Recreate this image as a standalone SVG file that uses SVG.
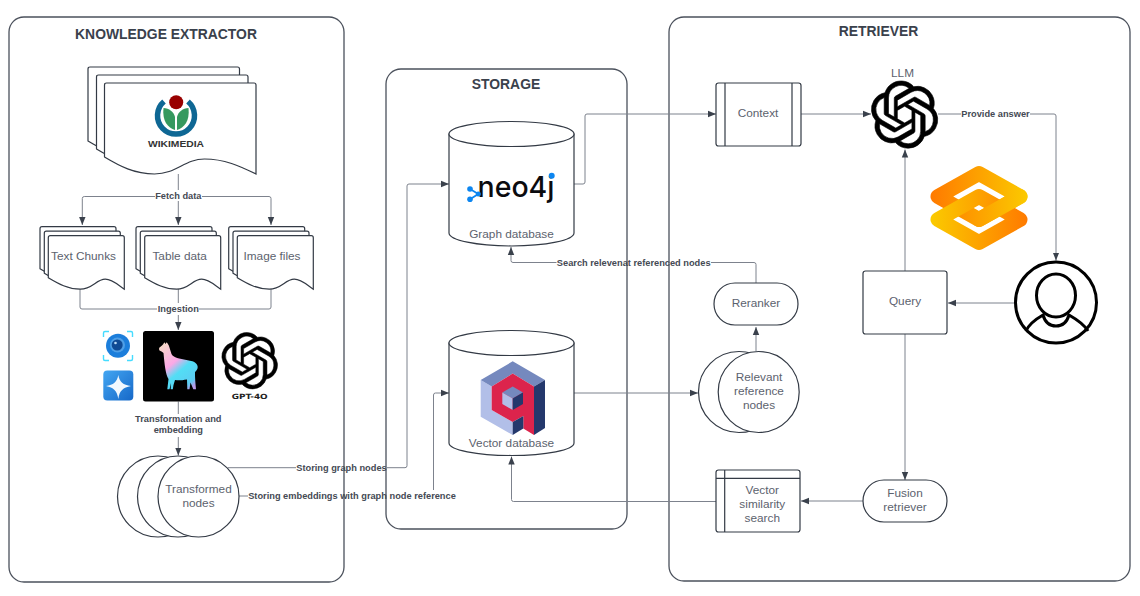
<svg xmlns="http://www.w3.org/2000/svg" width="1140" height="596" viewBox="0 0 1140 596">
<style>
text{font-family:"Liberation Sans",Arial,sans-serif}
.panel{fill:none;stroke:#4b515c;stroke-width:1.3}
.title{font-size:13.900px;font-weight:700;fill:#3a414c;text-anchor:middle}
.shape{fill:#fff;stroke:#333a45;stroke-width:1.2}
.t{font-size:11.800px;fill:#5c626e;text-anchor:middle}
.lab{font-size:9.250px;font-weight:700;fill:#454a54;text-anchor:middle}
.c{fill:none;stroke:#7d828d;stroke-width:1}
.ai{fill:#000;stroke:#000;stroke-width:.22}
</style>
<defs>
<marker id="a" viewBox="0 0 8 8" refX="8" refY="4" markerWidth="8" markerHeight="8" markerUnits="userSpaceOnUse" orient="auto"><path d="M0 0.8L8 4L0 7.2Z" fill="#3a414c"/></marker>
<path id="docL" d="M0 2Q0 0 2 0H149.500Q151.500 0 151.500 2V91C135 83 120 76 100 76C80 76 72 91 50 91C30 91 15 83 0 74Z"/>
<path id="docS" d="M0 2Q0 0 2 0H74Q76 0 76 2V53.500C70 49.500 64 43.500 57 43.500C48 43.500 44 53.500 32 53.500C20 53.500 10 48 0 42Z"/>
<path id="ai" d="M22.2819 9.8211a5.9847 5.9847 0 0 0-.5157-4.9108 6.0462 6.0462 0 0 0-6.5098-2.9A6.0651 6.0651 0 0 0 4.9807 4.1818a5.9847 5.9847 0 0 0-3.9977 2.9 6.0462 6.0462 0 0 0 .7427 7.0966 5.98 5.98 0 0 0 .511 4.9107 6.051 6.051 0 0 0 6.5146 2.9001A5.9847 5.9847 0 0 0 13.2599 24a6.0557 6.0557 0 0 0 5.7718-4.2058 5.9894 5.9894 0 0 0 3.9977-2.9001 6.0557 6.0557 0 0 0-.7475-7.0729zm-9.022 12.6081a4.4755 4.4755 0 0 1-2.8764-1.0408l.1419-.0804 4.7783-2.7582a.7948.7948 0 0 0 .3927-.6813v-6.7369l2.02 1.1686a.071.071 0 0 1 .038.052v5.5826a4.504 4.504 0 0 1-4.4945 4.4944zm-9.6607-4.1254a4.4708 4.4708 0 0 1-.5346-3.0137l.142.0852 4.783 2.7582a.7712.7712 0 0 0 .7806 0l5.8428-3.3685v2.3324a.0804.0804 0 0 1-.0332.0615L9.74 19.9502a4.4992 4.4992 0 0 1-6.1408-1.6464zM2.3408 7.8956a4.485 4.485 0 0 1 2.3655-1.9728V11.6a.7664.7664 0 0 0 .3879.6765l5.8144 3.3543-2.0201 1.1685a.0757.0757 0 0 1-.071 0l-4.8303-2.7865A4.504 4.504 0 0 1 2.3408 7.872zm16.5963 3.8558L13.1038 8.364 15.1192 7.2a.0757.0757 0 0 1 .071 0l4.8303 2.7913a4.4944 4.4944 0 0 1-.6765 8.1042v-5.6772a.79.79 0 0 0-.407-.667zm2.0107-3.0231l-.142-.0852-4.7735-2.7818a.7759.7759 0 0 0-.7854 0L9.409 9.2297V6.8974a.0662.0662 0 0 1 .0284-.0615l4.8303-2.7866a4.4992 4.4992 0 0 1 6.6802 4.66zM8.3065 12.863l-2.02-1.1638a.0804.0804 0 0 1-.038-.0567V6.0742a4.4992 4.4992 0 0 1 7.3757-3.4537l-.142.0805L8.704 5.459a.7948.7948 0 0 0-.3927.6813zm1.0976-2.3654l2.602-1.4998 2.6069 1.4998v2.9994l-2.5974 1.4997-2.6067-1.4997Z"/>
<linearGradient id="ora" gradientUnits="userSpaceOnUse" x1="931" y1="0" x2="1028" y2="0"><stop offset="0" stop-color="#ff7a00"/><stop offset="1" stop-color="#fbca00"/></linearGradient>
<linearGradient id="orb" gradientUnits="userSpaceOnUse" x1="931" y1="0" x2="1028" y2="0"><stop offset="0" stop-color="#fbca00"/><stop offset="1" stop-color="#ff7a00"/></linearGradient>
<linearGradient id="lam" x1="0.1" y1="0" x2="0.8" y2="1"><stop offset="0" stop-color="#f6dcc6"/><stop offset="0.42" stop-color="#fba8e6"/><stop offset="0.62" stop-color="#52def5"/><stop offset="0.9" stop-color="#5ccdf2"/><stop offset="1" stop-color="#b79ae8"/></linearGradient>
<linearGradient id="star" x1="0" y1="0" x2="1" y2="1"><stop offset="0" stop-color="#43a6f2"/><stop offset="1" stop-color="#1668c8"/></linearGradient>
</defs>

<g id="panels">
<rect id="panel-knowledge" class="panel" x="9" y="17" width="335" height="565" rx="15"/>
<rect id="panel-storage" class="panel" x="386" y="69" width="241" height="460" rx="15"/>
<rect id="panel-retriever" class="panel" x="669" y="17" width="461" height="564" rx="15"/>
<text class="title" x="166" y="39">KNOWLEDGE EXTRACTOR</text>
<text class="title" x="506" y="88.500">STORAGE</text>
<text class="title" x="878.500" y="36">RETRIEVER</text>
</g>

<g id="connectors">
<path class="c" d="M178.300 174V190M155 196.500H84.300Q82.300 196.500 82.300 198.500V225" marker-end="url(#a)"/>
<path class="c" d="M178.300 201V225" marker-end="url(#a)"/>
<path class="c" d="M202 196.500H269Q271 196.500 271 198.500V225" marker-end="url(#a)"/>
<text class="lab" x="178.300" y="199">Fetch data</text>
<path class="c" d="M80 289V307Q80 309 82 309H157M199 309H269Q271 309 271 307V289M178.300 289V303"/>
<path class="c" d="M178.300 315V330" marker-end="url(#a)"/>
<text class="lab" x="178.300" y="312">Ingestion</text>
<path class="c" d="M178.300 401.500V414"/>
<text class="lab" x="178.300" y="422">Transformation and</text>
<text class="lab" x="178.300" y="433">embedding</text>
<path class="c" d="M178.300 437V455.500" marker-end="url(#a)"/>
<path class="c" d="M228 467.700H296M387 467.700H405Q407 467.700 407 465.700V186Q407 184 409 184H449" marker-end="url(#a)"/>
<text class="lab" x="341.500" y="470.500">Storing graph nodes</text>
<path class="c" d="M239 496H248"/>
<text class="lab" x="352" y="498.500">Storing embeddings with graph node reference</text>
<path class="c" d="M433.500 490V395Q433.500 393 435.500 393H449" marker-end="url(#a)"/>
<path class="c" d="M574 184H583Q585 184 585 182V116Q585 114 587 114H716" marker-end="url(#a)"/>
<path class="c" d="M801 114H871" marker-end="url(#a)"/>
<path class="c" d="M938 114H961M1030 114H1054Q1056 114 1056 116V260.500" marker-end="url(#a)"/>
<text class="lab" x="995.500" y="116.800">Provide answer</text>
<path class="c" d="M1015 303H948" marker-end="url(#a)"/>
<path class="c" d="M905 271V149.500" marker-end="url(#a)"/>
<path class="c" d="M905 334V480" marker-end="url(#a)"/>
<path class="c" d="M863 501H801" marker-end="url(#a)"/>
<path class="c" d="M716 501.500H513.500Q511.500 501.500 511.500 499.500V456.500" marker-end="url(#a)"/>
<path class="c" d="M574 393H698" marker-end="url(#a)"/>
<path class="c" d="M756 351V327" marker-end="url(#a)"/>
<path class="c" d="M756 283V264.500Q756 262.500 754 262.500H711M556.500 262.500H513Q511 262.500 511 260.500V247" marker-end="url(#a)"/>
<text class="lab" x="633.700" y="265.500">Search relevenat referenced nodes</text>
</g>

<g id="node-wikimedia">
<use href="#docL" class="shape" x="88" y="67"/>
<use href="#docL" class="shape" x="96.500" y="75"/>
<use href="#docL" class="shape" x="104.500" y="83"/>
<path d="M164 101.500A18.500 18.500 0 1 0 188 101.500" fill="none" stroke="#0e6794" stroke-width="5.500"/>
<path d="M163.500 108C169 108 174 112 175 117V130C168 128 162 121 163.500 108Z" fill="#36995f"/>
<path d="M188.500 108C183 108 178 112 177 117V130C184 128 190 121 188.500 108Z" fill="#36995f"/>
<circle cx="176.200" cy="102.300" r="7" fill="#990000"/>
<text x="176" y="146.500" font-size="9.300" font-weight="700" fill="#333" text-anchor="middle" textLength="56" lengthAdjust="spacingAndGlyphs">WIKIMEDIA</text>
</g>

<g id="node-text-chunks">
<use href="#docS" class="shape" x="40" y="226.700"/>
<use href="#docS" class="shape" x="44.300" y="231.200"/>
<use href="#docS" class="shape" x="48.300" y="235.700"/>
<text class="t" x="83.500" y="260">Text Chunks</text>
</g>
<g id="node-table-data">
<use href="#docS" class="shape" x="136" y="226.700"/>
<use href="#docS" class="shape" x="140.300" y="231.200"/>
<use href="#docS" class="shape" x="144.700" y="235.700"/>
<text class="t" x="179.700" y="260">Table data</text>
</g>
<g id="node-image-files">
<use href="#docS" class="shape" x="228.700" y="226.700"/>
<use href="#docS" class="shape" x="233" y="231.200"/>
<use href="#docS" class="shape" x="237.300" y="235.700"/>
<text class="t" x="272" y="260">Image files</text>
</g>

<g id="node-models">
<path d="M103.500 337V333Q103.500 331.500 105 331.500H109M127 331.500H131Q132.500 331.500 132.500 333V337M132.500 355V359Q132.500 360.500 131 360.500H127M109 360.500H105Q103.500 360.500 103.500 359V355" fill="none" stroke="#45dcff" stroke-width="1.400"/>
<circle cx="118" cy="345.800" r="12" fill="#1c7edb"/>
<circle cx="117.500" cy="345" r="7.500" fill="#4f9fe6"/>
<circle cx="117.200" cy="345" r="5.500" fill="#0f4a95"/>
<circle cx="115.500" cy="343" r="1.300" fill="#bcdcf8"/>
<rect x="103.300" y="370.500" width="30" height="30" rx="4" fill="url(#star)"/>
<path d="M118.300 375C119.500 382 123 385 131 386C123 387.500 119.500 390.500 118.300 399C117 390.500 113.500 387.500 106 386C113.500 385 117 382 118.300 375Z" fill="#f2f8fe"/>
<rect x="143" y="331" width="71" height="70.500" rx="2.500" fill="#000"/>
<path d="M164.300 342.300L165.500 344L166.700 342.300C168 344 169 345.500 169.300 347L171.500 354C172.500 356 175 357.500 178 358.300L190 360.700C193 361 197.700 363 197.700 367C197.700 369.500 196 371 195 372C194.800 377 195.500 384 196 389.300H193.300L190.500 382.500L189.500 389.300H187.300L187 379.500C181 380.500 178 380.500 175 380L173.500 385L172.800 389.300H170.700L171 383L169.500 389.300H167.300L168.500 379C165.500 374 164.500 364 163.500 353C162.500 352 160.500 351 159.500 350.500C158.800 349 159 347.800 159.800 347.200C161 346.300 163 345.500 164.300 342.300Z" fill="url(#lam)"/>
<use href="#ai" class="ai" transform="translate(221.500 332.500) scale(2.350)"/>
<text x="249.700" y="399.300" style="font-family:'DejaVu Sans',sans-serif" font-size="7.200" font-weight="700" fill="#222" text-anchor="middle" textLength="36" lengthAdjust="spacingAndGlyphs">GPT-4O</text>
</g>

<g id="node-transformed">
<circle class="shape" cx="158" cy="496.500" r="40.500"/>
<circle class="shape" cx="178" cy="496.500" r="40.500"/>
<circle class="shape" cx="198.500" cy="496.500" r="40.500"/>
<text class="t" x="198.500" y="492.500">Transformed</text>
<text class="t" x="198.500" y="506.500">nodes</text>
</g>

<g id="node-graph-db">
<path class="shape" d="M449 134V233A62.500 13 0 0 0 574 233V134Z"/>
<ellipse class="shape" cx="511.500" cy="134" rx="62.500" ry="12.500"/>
<text x="477.500" y="196.500" style="font-family:Inter,sans-serif" font-size="29" font-weight="500" fill="#0b0b0f" textLength="77" lengthAdjust="spacingAndGlyphs">neo4j</text>
<circle cx="551.700" cy="175.700" r="3" fill="#0d86f0"/>
<path d="M470 189L478.300 194L470 199.300" fill="none" stroke="#0d86f0" stroke-width="1.800"/>
<circle cx="470" cy="189" r="2.800" fill="#0d86f0"/><circle cx="478.300" cy="194" r="2.500" fill="#0d86f0"/><circle cx="470" cy="199.300" r="2.800" fill="#0d86f0"/>
<text class="t" x="511.500" y="238">Graph database</text>
</g>

<g id="node-vector-db">
<path class="shape" d="M449 343V443A62.500 12.500 0 0 0 574 443V343Z"/>
<ellipse class="shape" cx="511.500" cy="343" rx="62.500" ry="12.500"/>
<polygon points="480.700,380 491.700,386.500 491.700,410 512.700,422 512.700,435 480.700,416.700" fill="#b2bfe8"/>
<polygon points="480.700,380 512.700,361.300 545,380 534,386.500 512.700,373.500 491.700,386.500" fill="#7589be"/>
<polygon points="491.700,386.500 512.700,373.500 534,386.500 534,435 523.300,428.500 523.300,416 512.700,422 491.700,410" fill="#dc244c"/>
<polygon points="534,386.500 545,380 545,428 534,435" fill="#24386c"/>
<polygon points="512.700,422 523.300,416 523.300,428.500 512.700,435" fill="#24386c"/>
<polygon points="502.300,392.500 512.700,386.500 523,392.500 512.700,398.500" fill="#7589be"/>
<polygon points="502.300,392.500 512.700,398.500 512.700,410 502.300,404" fill="#b2bfe8"/>
<polygon points="512.700,398.500 523,392.500 523,404 512.700,410" fill="#24386c"/>
<text class="t" x="511.500" y="447">Vector database</text>
</g>

<g id="node-context">
<rect class="shape" x="716" y="83" width="85" height="63" rx="2.500"/>
<path class="shape" d="M725 83V146M792 83V146"/>
<text class="t" x="758" y="117">Context</text>
</g>

<g id="node-llm">
<text class="t" x="902.500" y="77">LLM</text>
<use href="#ai" class="ai" transform="translate(871 81) scale(2.800)"/>
</g>

<g id="node-logo">
<path d="M979 173.500L1020 196.500L979 219.500L938 196.500Z" fill="none" stroke="url(#ora)" stroke-width="15" stroke-linejoin="round"/>
<path d="M979 196.500L1020 219.500L979 242.500L938 219.500Z" fill="none" stroke="url(#orb)" stroke-width="15" stroke-linejoin="round"/>
<path d="M1020 196.500L979 219.500" fill="none" stroke="url(#ora)" stroke-width="15" stroke-linecap="round"/>
</g>

<g id="node-user">
<circle cx="1056" cy="302.500" r="40.500" fill="#fff" stroke="#000" stroke-width="3"/>
<ellipse cx="1056" cy="295.500" rx="19.500" ry="21.500" fill="none" stroke="#000" stroke-width="3"/>
<path d="M1026 331C1029 324 1036 319 1043 315C1045 322 1049 326 1056 326C1063 326 1067 322 1069 315C1076 319 1084 324 1088 331" fill="none" stroke="#000" stroke-width="3"/>
</g>

<g id="node-query">
<rect class="shape" x="863" y="271" width="84" height="63" rx="2.500"/>
<text class="t" x="905" y="305">Query</text>
</g>
<g id="node-fusion">
<rect class="shape" x="863" y="480" width="84" height="42" rx="21"/>
<text class="t" x="905" y="497">Fusion</text>
<text class="t" x="905" y="511">retriever</text>
</g>
<g id="node-vector-search">
<rect class="shape" x="716" y="470" width="84" height="62" rx="2.500"/>
<path class="shape" d="M724.700 470V532M716 478.300H800"/>
<text class="t" x="762.300" y="494">Vector</text>
<text class="t" x="762.300" y="507.500">similarity</text>
<text class="t" x="762.300" y="521.500">search</text>
</g>
<g id="node-relevant">
<circle class="shape" cx="739" cy="392" r="40.500"/>
<circle class="shape" cx="758.700" cy="392" r="40.500"/>
<text class="t" x="759" y="381">Relevant</text>
<text class="t" x="759" y="395">reference</text>
<text class="t" x="759" y="409">nodes</text>
</g>
<g id="node-reranker">
<rect class="shape" x="714" y="283" width="84" height="42" rx="21"/>
<text class="t" x="756" y="306.500">Reranker</text>
</g>
</svg>
